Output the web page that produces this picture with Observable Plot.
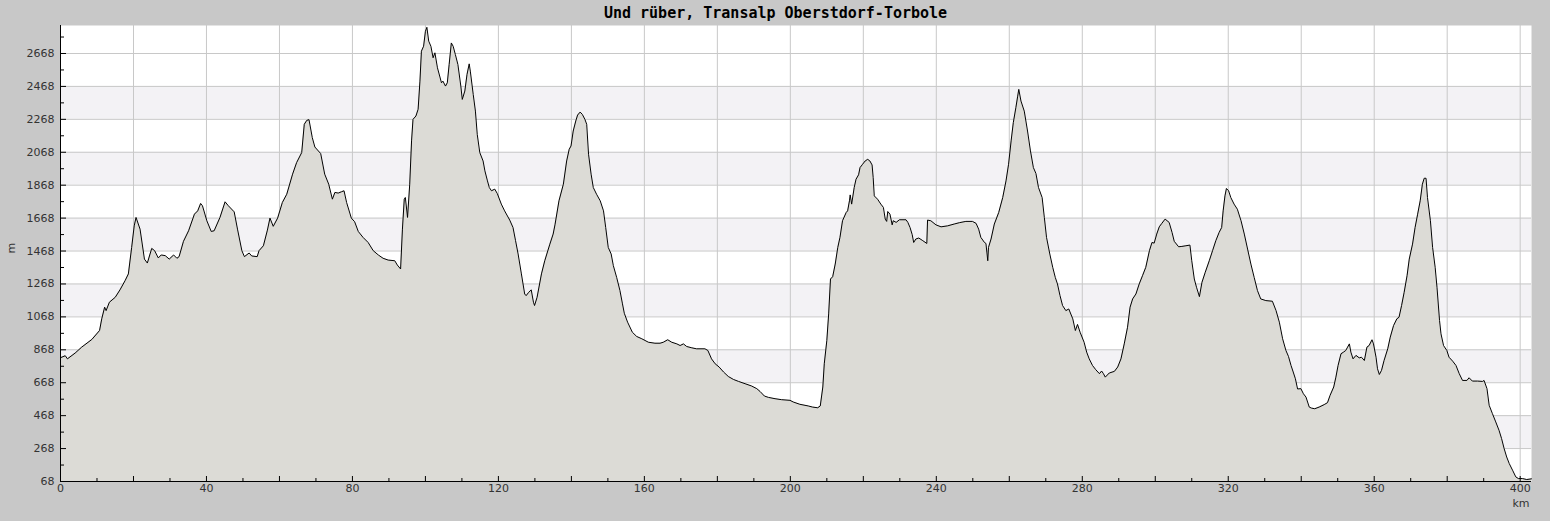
<!DOCTYPE html>
<html>
<head>
<meta charset="utf-8">
<script src="https://cdn.jsdelivr.net/npm/d3@7"></script>
<script src="https://cdn.jsdelivr.net/npm/@observablehq/plot@0.6"></script>
<style>
  html, body { margin: 0; padding: 0; background: #c8c8c8; }
  #chart svg { display: block; }
</style>
</head>
<body>
<div id="chart"></div>
<script>
const title = "Und rüber, Transalp Oberstdorf-Torbole";
const xLabel = "km";
const yLabel = "m";

const km = [0,1.3,1.9,4.0,5.8,8.6,10.7,11.3,12.1,12.5,13.4,15.0,16.3,17.7,18.6,19.5,20.2,20.7,21.8,23.0,23.8,25.0,25.8,26.8,27.6,28.7,29.8,31.0,31.9,32.5,33.7,35.1,36.7,37.6,38.4,38.9,40.1,41.3,42.1,43.7,45.1,46.0,47.6,48.5,49.7,50.4,51.7,52.4,53.9,54.4,55.6,56.7,57.4,58.3,59.5,60.8,62.0,63.6,64.7,66.1,66.8,67.5,68.1,69.0,69.7,71.3,72.4,73.5,74.5,75.2,76.1,77.0,77.7,78.4,79.7,80.6,81.6,82.9,84.3,85.7,87.1,88.4,89.8,91.6,92.3,93.2,93.7,94.2,94.5,95.1,95.7,96.2,96.6,97.4,98.0,98.5,98.9,99.5,100.0,100.4,100.9,101.5,102.1,102.6,103.3,104.4,104.8,105.5,106.0,106.5,107.1,107.6,108.2,108.9,109.7,110.1,110.8,111.4,112.0,112.3,113.1,113.7,114.2,114.9,115.8,116.3,117.0,117.5,118.1,119.0,119.7,120.8,121.7,123.1,124.0,124.7,125.4,126.3,127.2,127.6,128.3,129.0,129.6,129.9,130.6,131.8,132.7,134.1,135.0,135.5,136.6,137.8,138.7,139.4,139.9,140.5,141.2,141.7,142.4,143.0,143.7,144.2,144.7,145.4,146.0,146.9,147.9,148.8,149.4,150.1,150.9,151.5,152.4,153.3,154.0,154.5,155.4,156.7,157.9,159.3,161.1,162.9,164.3,165.2,166.4,167.5,168.9,169.8,170.7,171.6,173.0,174.3,176.6,177.4,178.4,179.4,180.5,181.7,183.0,184.4,185.8,187.6,189.4,190.8,191.7,192.9,194.0,195.8,197.6,199.9,200.8,202.6,204.9,206.1,207.5,208.2,208.9,209.3,210.0,210.5,211.0,211.6,212.3,213.0,213.6,214.3,215.3,215.7,216.2,216.4,216.8,217.5,218.0,218.7,219.1,219.8,220.5,221.2,221.8,222.4,222.7,223.0,223.9,224.8,225.5,226.0,226.4,226.7,227.3,227.9,228.2,229.0,229.9,231.7,232.2,232.8,233.4,233.8,234.4,235.2,236.3,237.4,237.6,238.5,239.9,241.3,243.1,244.9,246.3,248.1,249.9,250.9,251.6,252.2,253.2,253.6,254.1,254.3,255.0,255.9,257.1,258.2,259.1,259.8,260.5,261.1,261.8,262.3,262.6,263.2,264.1,265.0,265.8,266.6,267.3,268.0,269.0,269.6,270.2,271.1,271.9,272.6,273.2,273.9,274.6,275.5,276.3,277.4,278.1,278.7,279.4,280.5,281.2,281.9,282.8,283.7,284.7,285.3,285.8,286.3,287.4,288.8,289.7,290.6,291.5,292.4,293.1,293.8,294.7,295.6,296.5,297.4,298.4,299.1,299.7,300.4,301.1,301.8,302.7,303.8,304.6,305.2,306.4,307.3,308.4,309.5,310.0,310.7,311.3,312.1,312.8,313.7,314.8,315.7,316.6,317.5,318.2,318.6,319.1,319.5,320.1,320.7,321.6,322.5,323.5,324.4,325.3,326.2,327.1,328.0,328.9,330.3,332.1,333.1,334.0,334.9,335.8,336.5,337.2,337.8,338.4,339.0,339.9,340.6,341.3,342.2,342.8,343.7,344.9,346.3,347.2,347.9,348.9,349.5,350.1,350.9,351.6,352.2,352.7,353.2,353.6,354.2,355.0,355.9,356.5,357.3,358.0,358.6,359.4,359.8,360.5,360.9,361.4,362.0,362.7,363.7,364.4,365.3,366.2,366.8,367.5,368.2,369.0,369.6,370.5,371.2,371.9,372.6,373.2,373.7,374.2,374.6,375.4,376.0,376.7,377.2,377.9,378.3,379.0,379.9,380.5,381.5,382.4,383.3,384.2,385.4,386.0,386.9,388.3,389.7,390.1,390.9,391.5,392.4,393.3,394.2,394.9,395.6,396.3,397.0,397.9,398.8,399.5,400.6,401.8,403.1];

const elevation = [820,832,813,848,884,931,985,1056,1127,1106,1157,1187,1232,1288,1329,1490,1621,1672,1601,1419,1395,1484,1470,1426,1444,1440,1419,1444,1424,1434,1527,1591,1692,1712,1757,1743,1652,1587,1591,1672,1767,1743,1706,1601,1470,1434,1456,1438,1434,1470,1500,1595,1668,1618,1668,1763,1813,1935,2005,2066,2238,2262,2266,2157,2100,2060,1935,1874,1783,1824,1820,1828,1834,1763,1668,1646,1587,1551,1520,1470,1444,1424,1413,1409,1383,1359,1601,1783,1793,1672,1874,2137,2268,2288,2329,2500,2682,2712,2803,2827,2743,2712,2642,2672,2581,2490,2500,2470,2490,2601,2732,2712,2662,2601,2470,2389,2440,2541,2605,2561,2419,2318,2177,2066,2015,1955,1894,1854,1834,1844,1817,1753,1712,1656,1611,1531,1450,1329,1207,1197,1217,1232,1157,1137,1187,1329,1409,1510,1571,1627,1773,1874,2015,2086,2106,2197,2258,2294,2312,2298,2268,2238,2056,1935,1854,1813,1773,1712,1611,1490,1450,1379,1308,1228,1147,1090,1036,975,949,935,914,908,908,914,929,914,904,894,904,888,880,874,874,864,813,783,763,733,706,688,676,662,648,632,615,587,579,571,565,561,551,537,527,520,516,527,642,783,925,1086,1298,1312,1389,1490,1551,1652,1702,1712,1773,1809,1753,1854,1904,1931,1975,1995,2015,2025,2015,1991,1914,1803,1783,1753,1733,1662,1648,1708,1692,1627,1652,1642,1658,1658,1642,1611,1567,1520,1541,1547,1531,1514,1656,1652,1627,1615,1621,1632,1640,1648,1648,1636,1601,1551,1520,1514,1409,1490,1541,1632,1702,1793,1894,1995,2137,2248,2339,2409,2450,2379,2318,2197,2076,1975,1939,1854,1793,1672,1551,1450,1369,1308,1268,1197,1137,1106,1116,1056,985,1022,975,914,854,813,773,747,723,739,723,702,727,737,763,813,904,1005,1127,1177,1207,1268,1318,1369,1470,1520,1516,1571,1615,1636,1662,1642,1581,1527,1494,1496,1500,1504,1409,1298,1248,1191,1278,1339,1409,1470,1531,1581,1611,1712,1803,1848,1834,1793,1753,1722,1652,1571,1480,1389,1308,1228,1177,1167,1163,1106,1036,935,864,828,773,733,692,630,632,601,581,520,514,510,520,535,547,591,642,702,773,844,854,864,884,904,854,813,834,819,823,803,884,894,929,904,823,753,718,743,803,874,945,1015,1056,1066,1137,1217,1318,1419,1510,1611,1692,1773,1874,1910,1910,1793,1652,1490,1369,1248,1046,965,894,864,823,799,773,723,682,682,698,678,678,676,682,632,531,480,430,379,329,268,217,177,137,96,86,86,80,84];

const xTicks = [0, 40, 80, 120, 160, 200, 240, 280, 320, 360, 400];
const xGridTicks = [20, 40, 60, 80, 100, 120, 140, 160, 180, 200, 220, 240, 260, 280, 300, 320, 340, 360, 380, 400];
const xMinorTicks = [10, 30, 50, 70, 90, 110, 130, 150, 170, 190, 210, 230, 250, 270, 290, 310, 330, 350, 370, 390];
const yTicks = [68, 268, 468, 668, 868, 1068, 1268, 1468, 1668, 1868, 2068, 2268, 2468, 2668];
const yMinorTicks = [168, 368, 568, 768, 968, 1168, 1368, 1568, 1768, 1968, 2168, 2368, 2568, 2768];
const bandLow = [268, 668, 1068, 1468, 1868, 2268];
const bandHigh = [468, 868, 1268, 1668, 2068, 2468];

const xDomain = [0, 403.1];
const yDomain = [68, 2838];

const profile = km.map((k, i) => ({km: k, m: elevation[i]}));
const bands = bandLow.map((lo, i) => ({lo, hi: bandHigh[i]}));

const chart = Plot.plot({
  width: 1550,
  height: 521,
  marginLeft: 60,
  marginRight: 19,
  marginTop: 25,
  marginBottom: 40,
  style: {background: "#c8c8c8", fontFamily: "DejaVu Sans, sans-serif", fontSize: "11px", color: "#333"},
  x: {domain: xDomain},
  y: {domain: yDomain},
  marks: [
    Plot.frame({fill: "white", stroke: "none"}),
    Plot.rect(bands, {x1: xDomain[0], x2: xDomain[1], y1: "lo", y2: "hi", fill: "#f3f2f5"}),
    Plot.gridX(xGridTicks, {stroke: "#c8c8c8", strokeOpacity: 1}),
    Plot.gridY(yTicks.slice(1), {stroke: "#c8c8c8", strokeOpacity: 1}),
    Plot.areaY(profile, {x: "km", y1: yDomain[0], y2: "m", fill: "#dcdbd6"}),
    Plot.lineY(profile, {x: "km", y: "m", stroke: "#000", strokeWidth: 1}),
    Plot.ruleY([yDomain[0]], {stroke: "#000"}),
    Plot.ruleX([xDomain[0]], {stroke: "#000"}),
    Plot.axisX(xTicks, {tickSize: 0, tickPadding: 3, tickFormat: d => String(d), label: null, fill: "#333"}),
    Plot.axisX(xGridTicks, {tickSize: -5, tickFormat: () => "", label: null, stroke: "#000"}),
    Plot.axisX(xMinorTicks, {tickSize: -3, tickFormat: () => "", label: null, stroke: "#000"}),
    Plot.axisY(yTicks, {tickSize: 0, tickPadding: 6, tickFormat: d => String(d), label: null, fill: "#333"}),
    Plot.axisY(yTicks, {tickSize: -6, tickFormat: () => "", label: null, stroke: "#000"}),
    Plot.axisY(yMinorTicks, {tickSize: -4, tickFormat: () => "", label: null, stroke: "#000"}),
    Plot.text([yLabel], {frameAnchor: "left", dx: -49, rotate: -90, fontSize: 11, fill: "#333"}),
    Plot.text([xLabel], {frameAnchor: "bottom-right", dx: -2, dy: 25, fontSize: 11, fill: "#333"}),
    Plot.text([title], {frameAnchor: "top", dx: -20.5, dy: -18, fontFamily: "DejaVu Sans Mono, monospace", fontSize: 15, fontWeight: "bold", fill: "#000"})
  ]
});
document.getElementById("chart").appendChild(chart);
</script>
</body>
</html>
